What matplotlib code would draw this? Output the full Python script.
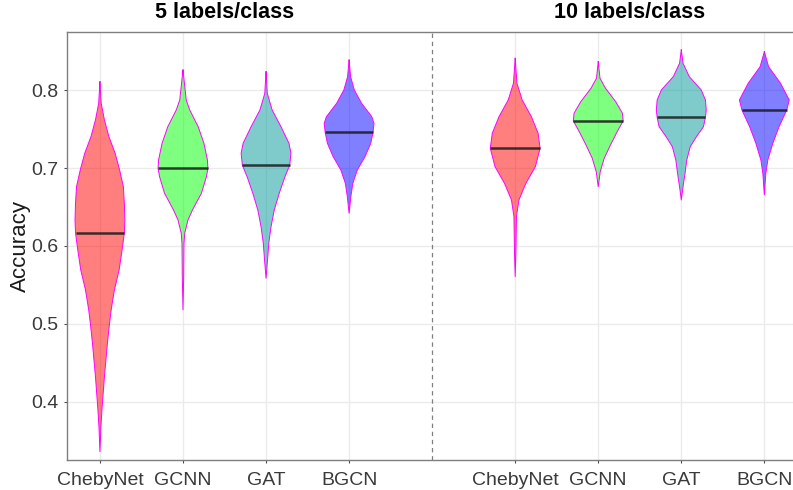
import numpy as np
import matplotlib
matplotlib.use("Agg")
import matplotlib.pyplot as plt

plt.rcParams['font.family'] = ['Liberation Sans', 'DejaVu Sans']

# ---------------- data ----------------
models = ["ChebyNet", "GCNN", "GAT", "BGCN"]
panels = ["5 labels/class", "10 labels/class"]

# violin outlines: accuracy levels and relative density (0..1)
acc_5_cheby = [0.8110, 0.7833, 0.7618, 0.7404, 0.7191, 0.6976, 0.6762, 0.6548, 0.6334, 0.6167,
               0.5951, 0.5692, 0.5435, 0.5178, 0.4963, 0.4750, 0.4536, 0.4321, 0.4108, 0.3893,
               0.3679, 0.3358]
den_5_cheby = [0.0, 0.05, 0.18, 0.36, 0.61, 0.79, 0.94, 0.98, 1.0, 0.98,
               0.89, 0.77, 0.58, 0.45, 0.37, 0.30, 0.24, 0.18, 0.13, 0.08,
               0.04, 0.0]

acc_5_gcnn = [0.8261, 0.7875, 0.7747, 0.7532, 0.7319, 0.7105, 0.6998, 0.6890, 0.6677, 0.6462,
              0.6334, 0.6163, 0.6035, 0.5606, 0.5178]
den_5_gcnn = [0.0, 0.13, 0.27, 0.61, 0.84, 0.98, 1.0, 0.94, 0.74, 0.38,
              0.20, 0.07, 0.04, 0.028, 0.0]

acc_5_gat = [0.8239, 0.7961, 0.7747, 0.7532, 0.7319, 0.7191, 0.7037, 0.6890, 0.6677, 0.6462,
             0.6248, 0.6035, 0.5820, 0.5585]
den_5_gat = [0.0, 0.05, 0.245, 0.60, 0.92, 1.0, 0.95, 0.76, 0.53, 0.33,
             0.20, 0.11, 0.06, 0.0]

acc_5_bgcn = [0.8389, 0.8175, 0.8004, 0.7833, 0.7661, 0.7576, 0.7460, 0.7319, 0.7147, 0.6976,
              0.6805, 0.6633, 0.6420]
den_5_bgcn = [0.0, 0.06, 0.21, 0.50, 0.91, 1.0, 0.96, 0.87, 0.64, 0.33,
              0.15, 0.07, 0.0]

acc_10_cheby = [0.8411, 0.8090, 0.7876, 0.7661, 0.7448, 0.7255, 0.7019, 0.6805, 0.6591, 0.6376,
                0.5949, 0.5606]
den_10_cheby = [0.0, 0.07, 0.28, 0.65, 0.92, 1.0, 0.81, 0.43, 0.15, 0.05,
                0.03, 0.0]

acc_10_gcnn = [0.8367, 0.8154, 0.8026, 0.7854, 0.7705, 0.7606, 0.7468, 0.7297, 0.7127, 0.6954,
               0.6762]
den_10_gcnn = [0.0, 0.07, 0.29, 0.70, 0.97, 1.0, 0.76, 0.49, 0.24, 0.08,
               0.0]

acc_10_gat = [0.8518, 0.8347, 0.8175, 0.8004, 0.7875, 0.7747, 0.7653, 0.7532, 0.7404, 0.7276,
              0.7105, 0.6934, 0.6762, 0.6591]
den_10_gat = [0.0, 0.07, 0.32, 0.80, 0.97, 1.0, 0.97, 0.89, 0.61, 0.36,
              0.22, 0.15, 0.07, 0.0]

acc_10_bgcn = [0.8496, 0.8303, 0.8090, 0.7875, 0.7747, 0.7532, 0.7319, 0.7105, 0.6934, 0.6655]
den_10_bgcn = [0.0, 0.17, 0.65, 1.0, 0.90, 0.59, 0.34, 0.14, 0.06, 0.0]

median_5 = [0.6166, 0.6998, 0.7037, 0.7460]
median_10 = [0.7255, 0.7606, 0.7653, 0.7747]

y_ticks = [0.4, 0.5, 0.6, 0.7, 0.8]

# ---------------- style ----------------
fill_colors = ["#FF0000", "#00FF00", "#009999", "#0000FF"]
half_width = 0.3

profiles = [
    [(acc_5_cheby, den_5_cheby), (acc_5_gcnn, den_5_gcnn), (acc_5_gat, den_5_gat), (acc_5_bgcn, den_5_bgcn)],
    [(acc_10_cheby, den_10_cheby), (acc_10_gcnn, den_10_gcnn), (acc_10_gat, den_10_gat), (acc_10_bgcn, den_10_bgcn)],
]
medians = [median_5, median_10]
offsets = [1, 6]

W, H = 793, 490
fig = plt.figure(figsize=(W / 100, H / 100), dpi=100)
ax = fig.add_axes([67.3 / W, 1 - 460 / H, 1 - 67.3 / W, (460 - 32.3) / H])

ax.set_xlim(0.607, 9.345)
ax.set_ylim(0.325, 0.8745)

# grid
for t in y_ticks:
    ax.axhline(t, color="#EBEBEB", lw=1.0, zorder=0)
for p in range(2):
    for i in range(len(models)):
        ax.axvline(offsets[p] + i, color="#EBEBEB", lw=1.0, zorder=0)

for p in range(2):
    for i, (acc, den) in enumerate(profiles[p]):
        x0 = offsets[p] + i
        a = np.array(acc)
        d = np.array(den) * half_width
        ax.fill_betweenx(a, x0 - d, x0 + d, facecolor=fill_colors[i], alpha=0.5,
                         edgecolor="none", zorder=2)
        ax.plot(np.concatenate([x0 - d, (x0 + d)[::-1]]), np.concatenate([a, a[::-1]]),
                color="#FF00FF", lw=0.7, zorder=3, solid_joinstyle="round")
        m = medians[p][i]
        wm = np.interp(m, a[::-1], d[::-1])
        ax.plot([x0 - wm, x0 + wm], [m, m], color="#1a1a1a", lw=1.8, alpha=0.85,
                solid_capstyle="butt", zorder=4)

# separator
ax.axvline(5, color="#7F7F7F", lw=0.9, ls=(0, (3.5, 3)), zorder=1)

ax.set_yticks(y_ticks)
ax.set_yticklabels([f"{t:.1f}" for t in y_ticks])
ax.set_xticks([1, 2, 3, 4, 6, 7, 8, 9])
ax.set_xticklabels(models + models)
ax.tick_params(axis="both", labelsize=14, colors="#4D4D4D", length=2.5, width=0.8)
ax.tick_params(axis="x", pad=6)
ax.tick_params(axis="y", pad=4)
for lab in ax.get_xticklabels() + ax.get_yticklabels():
    lab.set_color("#3a3a3a")

ax.set_ylabel("Accuracy", fontsize=16, color="#1a1a1a", labelpad=0)

for s in ["left", "bottom", "top"]:
    ax.spines[s].set_color("#7F7F7F")
    ax.spines[s].set_linewidth(1.0)
ax.spines["right"].set_visible(False)

ax.text(2.5, 0.8745 + 0.012, panels[0], ha="center", va="bottom", fontsize=15.5,
        fontweight="bold", color="black")
ax.text(7.38, 0.8745 + 0.012, panels[1], ha="center", va="bottom", fontsize=15.5,
        fontweight="bold", color="black")

fig.savefig("out.png", dpi=100)
